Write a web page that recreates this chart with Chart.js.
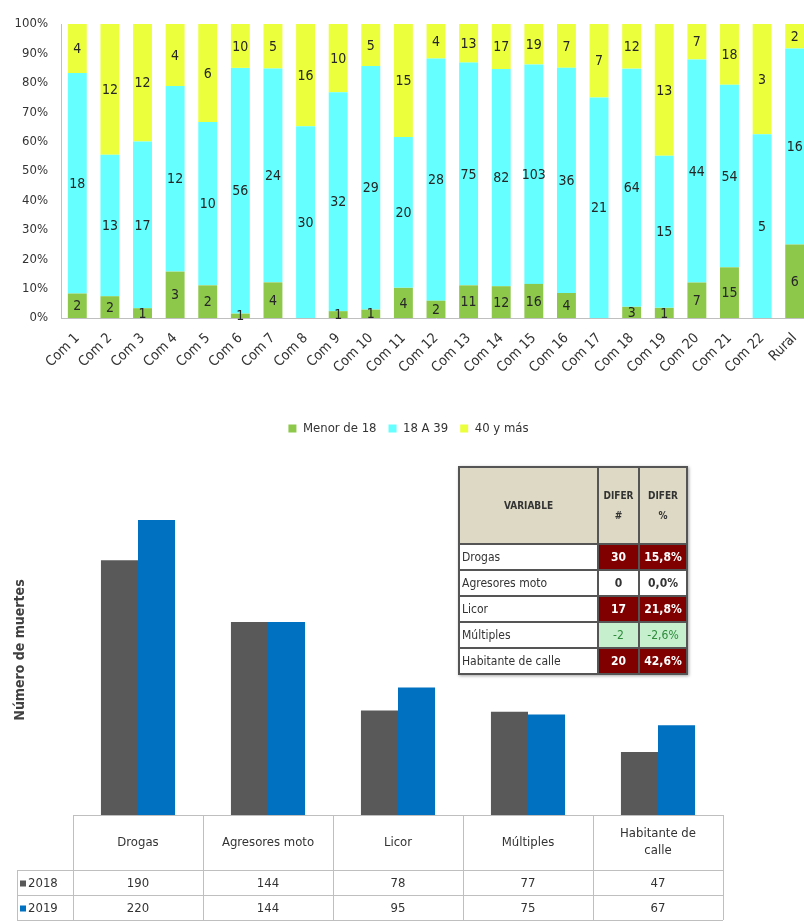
<!DOCTYPE html>
<html>
<head>
<meta charset="utf-8">
<script src="https://cdn.jsdelivr.net/npm/chart.js@4.4.1/dist/chart.umd.min.js"></script>
<style>
  html, body { margin: 0; padding: 0; background: #fff; width: 804px; height: 924px; overflow: hidden; }
  #top { position: absolute; left: 0; top: 0; }
  #bottom { position: absolute; left: 0; top: 440px; }
  #inset {
    position: absolute; left: 458px; top: 466px;
    border-collapse: collapse; font-family: "DejaVu Sans Condensed", Arial, sans-serif;
    box-shadow: 1px 1px 3px rgba(0,0,0,.35);
  }
  #inset td, #inset th { border: 2px solid #555; padding: 0 2px; height: 24px; font-size: 12px; color: #333; }
  #inset th { background: #DDD9C4; height: 75px; font-size: 10px; font-weight: bold; text-align: center; line-height: 20px; }
  #inset td.num { text-align: center; font-weight: bold; }
  #inset td.up { background: #800000; color: #fff; }
  #inset td.down { background: #C6EFCE; color: #2E8B3A; font-weight: normal; }
</style>
</head>
<body>
<canvas id="top" width="830" height="445"></canvas>
<canvas id="bottom" width="804" height="484"></canvas>
<table id="inset"></table>

<script>
/* ── Datos: edad por comuna ─────────────────────────────── */
const comunas = ['Com 1','Com 2','Com 3','Com 4','Com 5','Com 6','Com 7','Com 8','Com 9','Com 10',
  'Com 11','Com 12','Com 13','Com 14','Com 15','Com 16','Com 17','Com 18','Com 19','Com 20',
  'Com 21','Com 22','Rural'];
const menor18  = [2, 2, 1, 3, 2, 1, 4, 0, 1, 1, 4, 2, 11, 12, 16, 4, 0, 3, 1, 7, 15, 0, 6];
const de18a39  = [18, 13, 17, 12, 10, 56, 24, 30, 32, 29, 20, 28, 75, 82, 103, 36, 21, 64, 15, 44, 54, 5, 16];
const mas40    = [4, 12, 12, 4, 6, 10, 5, 16, 10, 5, 15, 4, 13, 17, 19, 7, 7, 12, 13, 7, 18, 3, 2];
const pctTicks = [0, 10, 20, 30, 40, 50, 60, 70, 80, 90, 100];

/* ── Datos: muertes por variable ────────────────────────── */
const variables = ['Drogas', 'Agresores moto', 'Licor', 'Múltiples', ['Habitante de', 'calle']];
const muertes2018 = [190, 144, 78, 77, 47];
const muertes2019 = [220, 144, 95, 75, 67];
const diferNum = ['30', '0', '17', '-2', '20'];
const diferPct = ['15,8%', '0,0%', '21,8%', '-2,6%', '42,6%'];

const FONT = '"DejaVu Sans Condensed", Arial, sans-serif';
const COLORS = { green: '#8DC84B', cyan: '#66FFFF', yellow: '#ECFF3D', gray: '#595959', blue: '#0070C0' };

const totals = comunas.map((c, i) => menor18[i] + de18a39[i] + mas40[i]);
const toPct = arr => arr.map((v, i) => v / totals[i] * 100);

/* etiquetas con el conteo en el centro de cada segmento */
const segLabels = {
  id: 'segLabels',
  afterDatasetsDraw(chart) {
    const ctx = chart.ctx;
    ctx.save();
    ctx.font = '14px ' + FONT;
    ctx.fillStyle = '#262626';
    ctx.textAlign = 'center';
    ctx.textBaseline = 'middle';
    chart.data.datasets.forEach((ds, i) => {
      chart.getDatasetMeta(i).data.forEach((bar, j) => {
        const v = ds.counts[j];
        if (!v) return;
        ctx.fillText(String(v), bar.x, (bar.y + bar.base) / 2 + 1);
      });
    });
    ctx.restore();
  }
};

new Chart(document.getElementById('top'), {
  type: 'bar',
  data: {
    labels: comunas,
    datasets: [
      { label: 'Menor de 18', data: toPct(menor18), counts: menor18, backgroundColor: COLORS.green },
      { label: '18 A 39',     data: toPct(de18a39), counts: de18a39, backgroundColor: COLORS.cyan },
      { label: '40 y más',    data: toPct(mas40),   counts: mas40,   backgroundColor: COLORS.yellow },
    ],
  },
  options: {
    responsive: false,
    animation: false,
    layout: { padding: { left: 6, top: 24, right: 19, bottom: 0 } },
    datasets: { bar: { barPercentage: 0.58, categoryPercentage: 1 } },
    plugins: {
      tooltip: { enabled: false },
      legend: {
        position: 'bottom',
        labels: { boxWidth: 8, boxHeight: 8, padding: 12, color: '#333', font: { family: FONT, size: 13 } },
      },
    },
    scales: {
      x: {
        stacked: true,
        grid: { display: false },
        border: { color: '#BFBFBF' },
        ticks: { minRotation: 45, maxRotation: 45, color: '#333', font: { family: FONT, size: 14 }, padding: 4 },
        afterFit(s) { s.height = 92; },
      },
      y: {
        stacked: true, min: 0, max: 100,
        afterBuildTicks(s) { s.ticks = pctTicks.map(v => ({ value: v })); },
        grid: { display: false },
        border: { color: '#BFBFBF' },
        ticks: { color: '#333', font: { family: FONT, size: 13 }, padding: 5, callback: v => v + '%' },
        afterFit(s) { s.width = 55; },
      },
    },
  },
  plugins: [segLabels],
});

/* tabla de datos bajo el eje y título del eje vertical */
const dataTable = {
  id: 'dataTable',
  afterDraw(chart) {
    const ctx = chart.ctx, a = chart.chartArea;
    const n = chart.data.labels.length;
    const colW = (a.right - a.left) / n;
    const hTop = a.bottom, hBot = a.bottom + 55, r1 = hBot + 25, r2 = r1 + 25;
    const labLeft = 17;
    ctx.save();
    ctx.strokeStyle = '#BFBFBF';
    ctx.lineWidth = 1;
    ctx.beginPath();
    ctx.moveTo(a.left, hTop + 0.5); ctx.lineTo(a.right, hTop + 0.5);
    [hBot, r1, r2].forEach(y => { ctx.moveTo(labLeft, y + 0.5); ctx.lineTo(a.right, y + 0.5); });
    for (let i = 0; i <= n; i++) {
      const x = Math.round(a.left + i * colW) + 0.5;
      ctx.moveTo(x, hTop); ctx.lineTo(x, r2);
    }
    ctx.moveTo(labLeft + 0.5, hBot); ctx.lineTo(labLeft + 0.5, r2);
    ctx.stroke();

    ctx.fillStyle = '#333';
    ctx.textAlign = 'center';
    ctx.textBaseline = 'middle';
    ctx.font = '13px ' + FONT;
    chart.data.labels.forEach((lab, i) => {
      const cx = chart.scales.x.getPixelForValue(i);
      const lines = Array.isArray(lab) ? lab : [lab];
      lines.forEach((t, k) => ctx.fillText(t, cx, (hTop + hBot) / 2 + (k - (lines.length - 1) / 2) * 17));
    });
    chart.data.datasets.forEach((ds, d) => {
      const y = (d === 0 ? (hBot + r1) : (r1 + r2)) / 2 + 1;
      ds.data.forEach((v, i) => {
        ctx.fillStyle = '#333';
        ctx.fillText(String(v), chart.scales.x.getPixelForValue(i), y);
      });
      ctx.fillStyle = ds.backgroundColor;
      ctx.fillRect(labLeft + 3, y - 3, 6, 6);
      ctx.fillStyle = '#333';
      ctx.textAlign = 'left';
      ctx.fillText(ds.label, labLeft + 11, y);
      ctx.textAlign = 'center';
    });

    ctx.translate(20, 210);
    ctx.rotate(-Math.PI / 2);
    ctx.font = 'bold 14px ' + FONT;
    ctx.fillStyle = '#404040';
    ctx.fillText('Número de muertes', 0, 0);
    ctx.restore();
  }
};

new Chart(document.getElementById('bottom'), {
  type: 'bar',
  data: {
    labels: variables,
    datasets: [
      { label: '2018', data: muertes2018, backgroundColor: COLORS.gray },
      { label: '2019', data: muertes2019, backgroundColor: COLORS.blue },
    ],
  },
  options: {
    responsive: false,
    animation: false,
    layout: { padding: { left: 73, right: 81, top: 80, bottom: 109 } },
    datasets: { bar: { barPercentage: 1, categoryPercentage: 0.57 } },
    plugins: { legend: { display: false }, tooltip: { enabled: false } },
    scales: {
      x: { display: false },
      y: { display: false, min: 0, max: 220 },
    },
  },
  plugins: [dataTable],
});

/* tabla de diferencias */
const inset = document.getElementById('inset');
let html = '<tr><th style="width:133px">VARIABLE</th><th style="width:35px">DIFER<br>#</th><th style="width:42px">DIFER<br>%</th></tr>';
variables.forEach((v, i) => {
  const name = Array.isArray(v) ? v.join(' ') : v;
  const n = Number(diferNum[i]);
  const cls = n > 0 ? 'up' : (n < 0 ? 'down' : '');
  html += `<tr><td>${name}</td><td class="num ${cls}">${diferNum[i]}</td><td class="num ${cls}">${diferPct[i]}</td></tr>`;
});
inset.innerHTML = html;
</script>
</body>
</html>
